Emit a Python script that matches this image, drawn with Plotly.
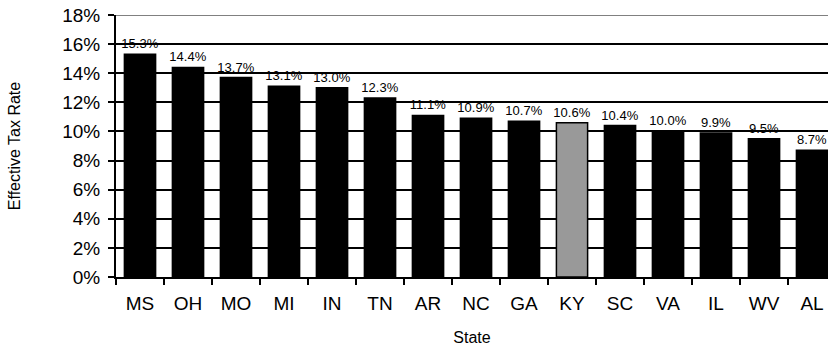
import plotly.graph_objects as go

states = ["MS", "OH", "MO", "MI", "IN", "TN", "AR", "NC", "GA", "KY", "SC", "VA", "IL", "WV", "AL"]
rates = [0.153, 0.144, 0.137, 0.131, 0.130, 0.123, 0.111, 0.109, 0.107, 0.106, 0.104, 0.100, 0.099, 0.095, 0.087]
highlight = "KY"

colors = ["#999999" if s == highlight else "#000000" for s in states]
labels = [f"{v*100:.1f}%" for v in rates]

FONT = "Liberation Sans, Arial, sans-serif"

fig = go.Figure(go.Bar(
    x=states, y=rates,
    marker=dict(color=colors, line=dict(color="#000000", width=1.5)),
    text=labels, textposition="outside", cliponaxis=False,
    constraintext="none",
    textfont=dict(family=FONT, size=13, color="#000000"),
))

fig.update_layout(
    width=828, height=349,
    margin=dict(l=116, r=0, t=15, b=72, autoexpand=False),
    paper_bgcolor="white", plot_bgcolor="white",
    bargap=0.35,
    showlegend=False,
    font=dict(family=FONT, color="#000000"),
    xaxis=dict(
        type="category",
        range=[-0.5, 14.333],
        automargin=False,
        tickson="boundaries",
        ticks="outside", ticklen=6, tickwidth=2, tickcolor="#000000",
        showline=True, linecolor="#000000", linewidth=2,
        showgrid=False,
        tickfont=dict(size=19, color="#000000"),
        ticklabeloverflow="allow",
        ticklabelstandoff=8,
        title=dict(text="State", font=dict(size=16, color="#000000"), standoff=19),
    ),
    yaxis=dict(
        range=[0, 0.18], dtick=0.02, tickformat=".0%",
        automargin=False,
        ticks="outside", ticklen=6, tickwidth=2, tickcolor="#000000",
        showline=True, linecolor="#000000", linewidth=2,
        showgrid=True, gridcolor="#000000", gridwidth=2,
        zeroline=False,
        tickfont=dict(size=19, color="#000000"),
        ticklabeloverflow="allow",
        ticklabelstandoff=4,
        title=dict(text="Effective Tax Rate", font=dict(size=16, color="#000000"), standoff=38),
    ),
    shapes=[dict(type="line", xref="paper", yref="y", x0=0, x1=1, y0=0.18, y1=0.18,
                 line=dict(color="#808080", width=2), layer="above")],
)

fig.write_html("out.html", config={"displayModeBar": False},
               post_script="document.body.style.margin='0';")
